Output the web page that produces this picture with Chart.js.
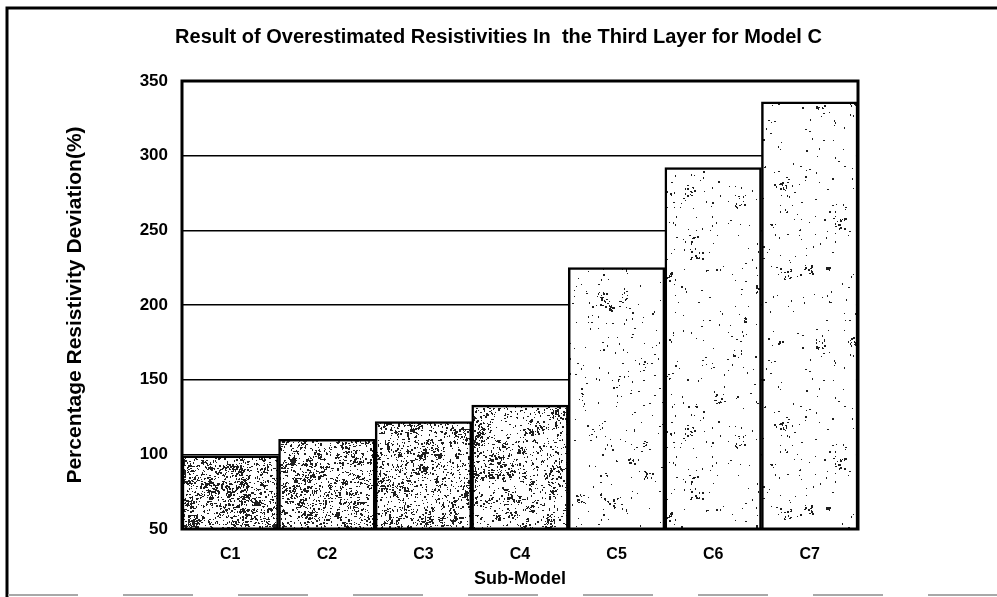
<!DOCTYPE html>
<html>
<head>
<meta charset="utf-8">
<script src="https://cdn.jsdelivr.net/npm/chart.js@4.4.1/dist/chart.umd.min.js"></script>
<style>
  body { margin: 0; background: #fff; }
  canvas { display: block; }
</style>
</head>
<body>
<canvas id="resChart" width="997" height="597"></canvas>
<script>
const subModels = ['C1', 'C2', 'C3', 'C4', 'C5', 'C6', 'C7'];
const deviation = [99, 110, 122, 133, 225, 292, 336];
const yTicks = [50, 100, 150, 200, 250, 300, 350];

const FONT = "'Liberation Sans', Arial, sans-serif";
const ctx = document.getElementById('resChart').getContext('2d');

// speckled fill like the scanned original (seeded, so it is the same every run)
function stipple(dots, blots, seed) {
  const size = 240;
  const c = document.createElement('canvas');
  c.width = size; c.height = size;
  const g = c.getContext('2d');
  g.fillStyle = '#fff';
  g.fillRect(0, 0, size, size);
  let s = seed;
  const rnd = () => (s = (s * 16807) % 2147483647) / 2147483647;
  g.fillStyle = '#1e1e1e';
  // loose single specks
  const n = Math.round(size * size * dots);
  for (let i = 0; i < n; i++) {
    g.fillRect(rnd() * size | 0, rnd() * size | 0, rnd() < 0.7 ? 1 : 2, rnd() < 0.7 ? 1 : 2);
  }
  // small dark blotches
  const m = Math.round(size * size * blots / 100);
  for (let k = 0; k < m; k++) {
    const cx = rnd() * size, cy = rnd() * size;
    const r = 2 + rnd() * 5;
    const q = 4 + (rnd() * 12 | 0);
    for (let i = 0; i < q; i++) {
      const x = (cx + (rnd() - 0.5) * 2 * r + size) % size;
      const y = (cy + (rnd() - 0.5) * 2 * r + size) % size;
      g.fillRect(x | 0, y | 0, rnd() < 0.5 ? 1 : 2, rnd() < 0.5 ? 1 : 2);
    }
  }
  return ctx.createPattern(c, 'repeat');
}

const fills = [
  stipple(0.10, 1.0, 11), stipple(0.08, 0.8, 23), stipple(0.07, 0.6, 37), stipple(0.05, 0.45, 41),
  stipple(0.008, 0.04, 53), stipple(0.008, 0.05, 67), stipple(0.007, 0.04, 79)
];

// black frame round the plot area and round the figure
const framePlugin = {
  id: 'frame',
  afterDatasetsDraw(chart) {
    const { ctx, chartArea: a } = chart;
    ctx.save();
    ctx.strokeStyle = '#000';
    ctx.lineWidth = 3;
    ctx.strokeRect(a.left, a.top, a.right - a.left, a.bottom - a.top);
    ctx.beginPath();
    ctx.moveTo(7, 597);
    ctx.lineTo(7, 8);
    ctx.lineTo(997, 8);
    ctx.stroke();
    ctx.strokeStyle = '#a8a8a8';
    ctx.lineWidth = 2;
    ctx.setLineDash([70, 45]);
    ctx.beginPath();
    ctx.moveTo(8, 595);
    ctx.lineTo(997, 595);
    ctx.stroke();
    ctx.restore();
  }
};

new Chart(ctx, {
  type: 'bar',
  data: {
    labels: subModels,
    datasets: [{
      data: deviation,
      backgroundColor: fills,
      borderColor: '#000',
      borderWidth: 2.5,
      borderSkipped: false,
      barPercentage: 1,
      categoryPercentage: 1
    }]
  },
  options: {
    responsive: false,
    animation: false,
    plugins: {
      legend: { display: false },
      tooltip: { enabled: false },
      title: {
        display: true,
        text: 'Result of Overestimated Resistivities In  the Third Layer for Model C',
        color: '#000',
        font: { family: FONT, size: 20, weight: 'bold' },
        padding: { top: 25, bottom: 32 }
      }
    },
    scales: {
      x: {
        grid: { display: false, drawTicks: false },
        border: { display: false },
        ticks: { color: '#000', padding: 16, font: { family: FONT, size: 16, weight: 'bold' } },
        title: {
          display: true,
          text: 'Sub-Model',
          color: '#000',
          font: { family: FONT, size: 18, weight: 'bold' },
          padding: { top: 0, bottom: 7 }
        },
        afterFit(scale) { scale.height = 68; }
      },
      y: {
        min: 50,
        max: 350,
        afterBuildTicks(scale) { scale.ticks = yTicks.map(v => ({ value: v })); },
        grid: { color: '#000', lineWidth: 1.5, drawTicks: false },
        border: { display: false },
        ticks: { color: '#000', padding: 14, font: { family: FONT, size: 17, weight: 'bold' } },
        title: {
          display: true,
          text: 'Percentage Resistivity Deviation(%)',
          color: '#000',
          font: { family: FONT, size: 21, weight: 'bold' },
          padding: { top: 63, bottom: 0 }
        },
        afterFit(scale) { scale.width = 182; }
      },
      // empty strip on the right so the title stays centred on the page
      rightGap: {
        type: 'linear',
        position: 'right',
        grid: { display: false, drawTicks: false },
        border: { display: false },
        ticks: { display: false },
        afterFit(scale) { scale.width = 139; }
      }
    }
  },
  plugins: [framePlugin]
});
</script>
</body>
</html>
